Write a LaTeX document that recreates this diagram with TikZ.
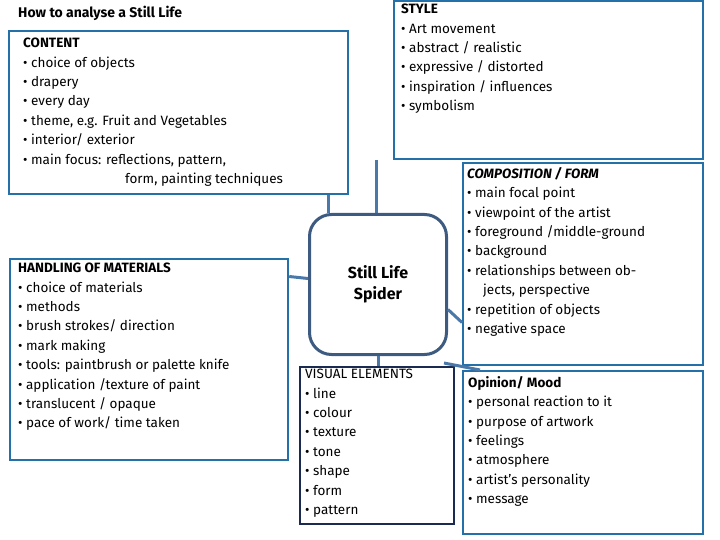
\documentclass[tikz,border=0pt]{standalone}
\usepackage{fontspec}
\setmainfont{Fira Sans}
\usetikzlibrary{positioning}
\definecolor{boxblue}{HTML}{2470A8}
\definecolor{hubblue}{HTML}{3D5A80}
\definecolor{navy}{HTML}{1A2A50}
\definecolor{legblue}{HTML}{4A78A8}
\begin{document}
\begin{tikzpicture}[x=1pt,y=-1pt,
		Box/.style={rectangle,draw=boxblue,line width=2.2pt,inner sep=0pt,anchor=north west},
		Txt/.style={anchor=north west,align=left,inner sep=0pt,font=\fontsize{13.5}{19.4}\selectfont},
		Leg/.style={draw=legblue,line width=3pt}]
		\useasboundingbox (0,0) rectangle (720,540);
		% boxes
		\node[Box,minimum width=339pt,minimum height=163pt] (Content) at (8,30) {};
		\node[Box,minimum width=309pt,minimum height=158pt] (Style) at (393,0) {};
		\node[Box,minimum width=240pt,minimum height=202pt] (Comp) at (462,162) {};
		\node[Box,minimum width=278pt,minimum height=201pt] (Handling) at (9,258) {};
		\node[Box,draw=navy,minimum width=154pt,minimum height=157pt] (Visual) at (299,366) {};
		\node[Box,minimum width=240pt,minimum height=163pt] (Opinion) at (462,370) {};
		\node[Box,draw=hubblue,line width=3pt,rounded corners=22pt,minimum width=137pt,minimum height=140pt] (Hub) at (308,213) {};
		% texts
		\node[Txt,font=\fontsize{14}{19.4}\selectfont\bfseries] (Title) at (18,6) {How to analyse a Still Life};
		\node[Txt] (ContentTxt) at (23,38) {\textbf{CONTENT}\\ • choice of objects\\ • drapery\\ • every day\\ • theme, e.g. Fruit and Vegetables\\ • interior/ exterior\\ • main focus: reflections, pattern,\\ \hspace*{102pt}form, painting techniques};
		\node[Txt] (StyleTxt) at (401,4) {\textbf{STYLE}\\ • Art movement\\ • abstract / realistic\\ • expressive / distorted\\ • inspiration / influences\\ • symbolism};
		\node[Txt] (CompTxt) at (467,167) {\textbf{\textit{COMPOSITION / FORM}}\\ • main focal point\\ • viewpoint of the artist\\ • foreground /middle-ground\\ • background\\ • relationships between ob-\\ \hspace*{16pt}jects, perspective\\ • repetition of objects\\ • negative space};
		\node[Txt] (HandlingTxt) at (18,263) {\textbf{HANDLING OF MATERIALS}\\ • choice of materials\\ • methods\\ • brush strokes/ direction\\ • mark making\\ • tools: paintbrush or palette knife\\ • application /texture of paint\\ • translucent / opaque\\ • pace of work/ time taken};
		\node[Txt] (VisualTxt) at (305,369) {VISUAL ELEMENTS\\ • line\\ • colour\\ • texture\\ • tone\\ • shape\\ • form\\ • pattern};
		\node[Txt] (OpinionTxt) at (468,376) {\textbf{Opinion/ Mood}\\ • personal reaction to it\\ • purpose of artwork\\ • feelings\\ • atmosphere\\ • artist’s personality\\ • message};
		\node[align=center,font=\fontsize{16}{21}\selectfont\bfseries] (HubTxt) at (Hub.center) {Still Life\\ Spider};
		% legs
		\draw[Leg] (Hub.north -| Content.south east) ++(-21,0) coordinate (a) -- (a |- Content.south);
		\draw[Leg] ([xshift=-1.5pt]Hub.north) coordinate (b) -- (b |- Style.south);
		\draw[Leg] ([yshift=6pt]Hub.west) -- ([yshift=8pt]Handling.east |- Hub.west);
		\draw[Leg] ([yshift=-25pt]Hub.east) -- ([yshift=-38pt]Comp.west |- Hub.east);
		\draw[Leg] (Hub.south) -- (Hub.south |- Visual.north);
		\draw[Leg] ([xshift=-4pt,yshift=-7pt]Hub.south east) -- ([xshift=18pt]Opinion.north west);
	\end{tikzpicture}
\end{document}
